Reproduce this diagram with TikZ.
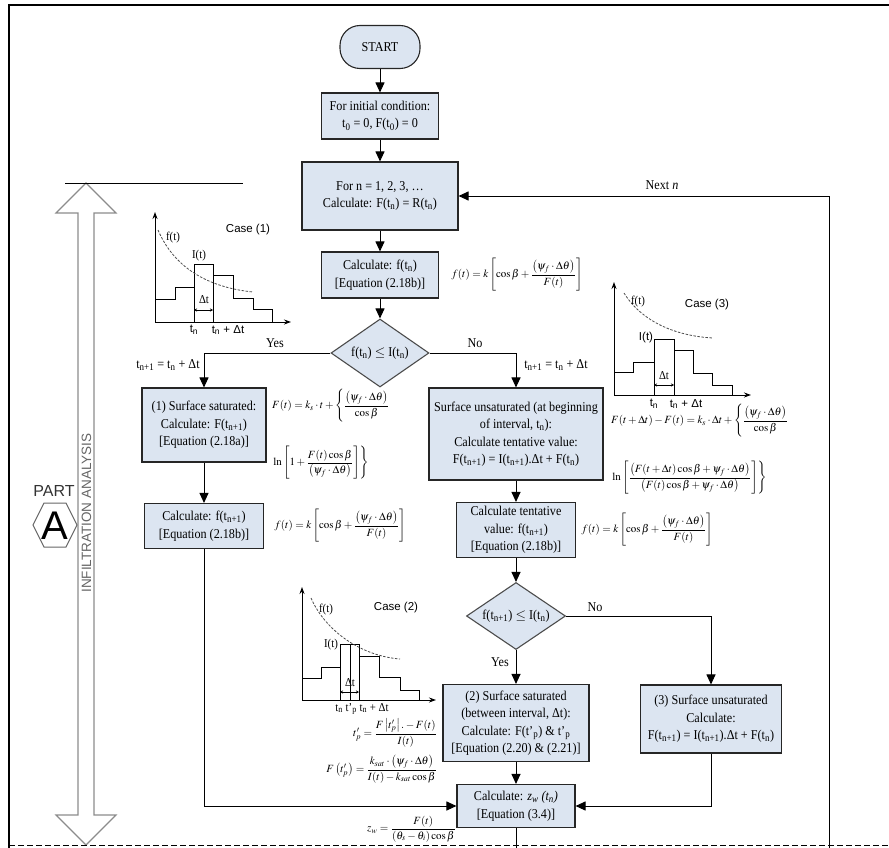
\documentclass[tikz,border=0pt]{standalone}
\usepackage{mathptmx}
\usepackage{fontspec}
\setmainfont{Liberation Serif}[FakeStretch=0.9]
\setsansfont{Liberation Sans}
\usetikzlibrary{arrows.meta,shapes.geometric}
\definecolor{boxfill}{HTML}{DCE5F1}
\definecolor{dblgray}{HTML}{8C8C8C}
\newcommand\tsub[1]{\textsubscript{#1}}
\begin{document}
\begin{tikzpicture}[x=1pt,y=-1pt,
  font=\fontsize{13.5}{17.5}\selectfont,
  box/.style={draw=black!85, fill=boxfill, line width=1.1pt, align=center, inner sep=2pt},
  dia/.style={diamond, draw=black!70, fill=boxfill, line width=1.1pt, align=center, inner sep=0pt, aspect=1.44},
  arr/.style={line width=1pt, -{Triangle[length=10pt,width=9pt]}},
  ln/.style={line width=1pt},
  chart/.style={line width=0.9pt},
  ax/.style={line width=0.9pt, -{Stealth[length=7pt,width=5pt]}},
  curv/.style={line width=0.8pt, dashed, dash pattern=on 2.5pt off 1.5pt, black!70},
  fm/.style={font=\fontsize{11}{13}\selectfont, inner sep=0pt},
  lbl/.style={inner sep=0pt},
  clab/.style={inner sep=0pt, font=\sffamily\fontsize{11.5}{13}\selectfont},
  slab/.style={inner sep=0pt, font=\fontsize{12}{13}\selectfont}
]
\useasboundingbox (0,0) rectangle (889,848);
% frame
\draw[line width=1.3pt] (9,860) -- (9,5) -- (889,5);

% left double arrow
\draw[dblgray, fill=white, line width=1.1pt]
  (86,183) -- (56,213) -- (78,213) -- (78,815) -- (56,815) -- (86,845)
  -- (116,815) -- (94,815) -- (94,213) -- (116,213) -- cycle;
\draw[ln] (65,183) -- (243,183);
\node[rotate=90, inner sep=0pt, text=black!60, font=\sffamily\fontsize{13.5}{14}\selectfont] (infil) at (86.5,513) {INFILTRATION ANALYSIS};
\node[inner sep=0pt, text=black!80, font=\sffamily\fontsize{16}{16}\selectfont] (part) at (54,491) {PART};
\draw[black!60, line width=1pt] (33,525) -- (44,503) -- (66,503) -- (77,525) -- (66,547) -- (44,547) -- cycle;
\node[inner sep=0pt, font=\sffamily\fontsize{40}{40}\selectfont] (lettA) at (55,526) {A};

% main flow nodes
\node[box, rounded corners=20pt, minimum width=80pt, minimum height=43pt] (start) at (380,47) {START};
\node[box, minimum width=117pt, minimum height=46pt] (init) at (380,116) {For initial condition:\\ t\tsub{0} = 0, F(t\tsub{0}) = 0};
\node[box, minimum width=156pt, minimum height=68pt] (loop) at (380,196) {For n = 1, 2, 3, \dots\\ Calculate: F(t\tsub{n}) = R(t\tsub{n})};
\node[box, minimum width=117pt, minimum height=46pt] (cf) at (380,275) {Calculate: f(t\tsub{n})\\ {[}Equation (2.18b){]}};
\node[dia, minimum width=98pt, minimum height=68pt] (d1) at (380,353) {f(t\tsub{n}) $\leq$ I(t\tsub{n})};
\node[box, minimum width=124pt, minimum height=74pt] (b1) at (204,425) {(1) Surface saturated:\\ Calculate: F(t\tsub{n+1})\\ {[}Equation (2.18a){]}};
\node[box, minimum width=119pt, minimum height=45pt] (cf2) at (204,526) {Calculate: f(t\tsub{n+1})\\ {[}Equation (2.18b){]}};
\node[box, minimum width=174pt, minimum height=92pt] (bu) at (516,434) {Surface unsaturated (at beginning\\ of interval, t\tsub{n}):\\ Calculate tentative value:\\ F(t\tsub{n+1}) = I(t\tsub{n+1}).Δt + F(t\tsub{n})};
\node[box, minimum width=119pt, minimum height=55pt] (bt) at (516,530) {Calculate tentative\\ value: f(t\tsub{n+1})\\ {[}Equation (2.18b){]}};
\node[dia, minimum width=99pt, minimum height=67pt] (d2) at (516,616) {f(t\tsub{n+1}) $\leq$ I(t\tsub{n})};
\node[box, minimum width=146pt, minimum height=77pt] (b2) at (516,723) {(2) Surface saturated\\ (between interval, Δt):\\ Calculate: F(t'\tsub{p}) \& t'\tsub{p}\\ {[}Equation (2.20) \& (2.21){]}};
\node[box, minimum width=141pt, minimum height=68pt] (b3) at (711,719) {(3) Surface unsaturated\\ Calculate:\\ F(t\tsub{n+1}) = I(t\tsub{n+1}).Δt + F(t\tsub{n})};
\node[box, minimum width=118pt, minimum height=43pt] (bz) at (516,806) {Calculate: \textit{z\tsub{w} (t\tsub{n})}\\ {[}Equation (3.4){]}};

% connectors
\draw[arr] (start) -- (init);
\draw[arr] (init) -- (loop);
\draw[arr] (loop) -- (cf);
\draw[arr] (cf) -- (d1);
\draw[arr] (d1.west) -| (b1.north);
\draw[arr] (d1.east) -| (bu.north);
\draw[arr] (b1) -- (cf2);
\draw[arr] (bu) -- (bt);
\draw[arr] (bt) -- (d2);
\draw[arr] (d2.east) -| (b3.north);
\draw[arr] (d2) -- (b2);
\draw[arr] (b2) -- (bz);
\draw[arr] (cf2.south) |- (bz.west);
\draw[arr] (b3.south) |- (bz.east);
\coordinate (zend) at (516,870);
\draw[arr] (bz) -- (zend);
\coordinate (nextbot) at (829,870);
\draw[arr] (nextbot) |- (loop.east);
\node[lbl] (nextn) at (662,185) {Next \textit{n}};

% branch labels
\node[lbl] (yes1) at (275,343) {Yes};
\node[lbl] (tl1) at (168,365) {t\tsub{n+1} = t\tsub{n} + Δt};
\node[lbl] (no1) at (475,343) {No};
\node[lbl] (tl2) at (556,365) {t\tsub{n+1} = t\tsub{n} + Δt};
\node[lbl] (no2) at (595,607) {No};
\node[lbl] (yes2) at (500,662) {Yes};

% dashed separator
\draw[line width=1pt, dashed, dash pattern=on 6pt off 3pt] (9,845) -- (889,845);

% formulas
\node[fm] (ff1) at (517,275) {$\displaystyle f(t)=k\left[\cos\beta+\frac{\left(\psi_f\cdot\Delta\theta\right)}{F(t)}\right]$};
\node[fm, anchor=west] (fa1) at (272,406) {$\displaystyle F(t)=k_s\cdot t+\left\{\frac{\left(\psi_f\cdot\Delta\theta\right)}{\cos\beta}\right.$};
\node[fm, anchor=west] (fa2) at (272,463) {$\displaystyle \left.\ln\left[1+\frac{F(t)\cos\beta}{\left(\psi_f\cdot\Delta\theta\right)}\right]\right\}$};
\node[fm] (ff2) at (340,526) {$\displaystyle f(t)=k\left[\cos\beta+\frac{\left(\psi_f\cdot\Delta\theta\right)}{F(t)}\right]$};
\node[fm, anchor=west] (fu1) at (611,421) {$\displaystyle F(t+\Delta t)-F(t)=k_s\cdot\Delta t+\left\{\frac{\left(\psi_f\cdot\Delta\theta\right)}{\cos\beta}\right.$};
\node[fm, anchor=west] (fu2) at (611,478) {$\displaystyle \left.\ln\left[\frac{\left(F(t+\Delta t)\cos\beta+\psi_f\cdot\Delta\theta\right)}{\left(F(t)\cos\beta+\psi_f\cdot\Delta\theta\right)}\right]\right\}$};
\node[fm] (ff3) at (647,530) {$\displaystyle f(t)=k\left[\cos\beta+\frac{\left(\psi_f\cdot\Delta\theta\right)}{F(t)}\right]$};
\node[fm, anchor=east] (ftp) at (437,733) {$\displaystyle t'_p=\frac{F\left|t'_p\right|.-F(t)}{I(t)}$};
\node[fm, anchor=east] (fFtp) at (437,769) {$\displaystyle F\left(t'_p\right)=\frac{k_{sat}\cdot\left(\psi_f\cdot\Delta\theta\right)}{I(t)-k_{sat}\cos\beta}$};
\node[fm, anchor=east] (fzw) at (456,829) {$\displaystyle z_w=\frac{F(t)}{\left(\theta_s-\theta_i\right)\cos\beta}$};

% ---- Case (1) chart
\draw[ax] (155,322) -- (155,212);
\draw[ax] (155,322) -- (291,322);
\draw[chart] (155,299) -- (175,299) -- (175,287) -- (194,287) -- (194,264) -- (213,264) -- (213,275) -- (233,275) -- (233,298) -- (253,298) -- (253,309) -- (272,309) -- (272,322);
\draw[chart] (194,264) -- (194,322);
\draw[chart] (213,264) -- (213,322);
\draw[line width=0.6pt, {Stealth[length=3pt,width=3pt]}-{Stealth[length=3pt,width=3pt]}] (194,310) -- (213,310);
\draw[curv] (158,230) .. controls (176,272) and (214,288) .. (253,292);
\node[slab] (c1f) at (173,238) {f(t)};
\node[slab] (c1I) at (199,256) {I(t)};
\node[clab] (c1c) at (248,230) {Case (1)};
\node[slab] (c1d) at (204,300) {Δt};
\node[clab] (c1t1) at (194,330) {t\tsub{n}};
\node[clab] (c1t2) at (228,330) {t\tsub{n} + Δt};

% ---- Case (3) chart
\draw[ax] (614,395) -- (614,282);
\draw[ax] (614,395) -- (751,395);
\draw[chart] (614,372) -- (633,372) -- (633,362) -- (654,362) -- (654,339) -- (674,339) -- (674,350) -- (693,350) -- (693,373) -- (712,373) -- (712,385) -- (732,385) -- (732,395);
\draw[chart] (654,339) -- (654,395);
\draw[chart] (674,339) -- (674,395);
\draw[line width=0.6pt, {Stealth[length=3pt,width=3pt]}-{Stealth[length=3pt,width=3pt]}] (654,385) -- (674,385);
\draw[curv] (624,293) .. controls (642,322) and (676,336) .. (713,338);
\node[slab] (c3f) at (638,302) {f(t)};
\node[clab] (c3I) at (646,338) {I(t)};
\node[clab] (c3c) at (707,305) {Case (3)};
\node[slab] (c3d) at (664,376) {Δt};
\node[clab] (c3t1) at (654,404) {t\tsub{n}};
\node[clab] (c3t2) at (686,404) {t\tsub{n} + Δt};

% ---- Case (2) chart
\draw[ax] (302,700) -- (302,587);
\draw[ax] (302,700) -- (436,700);
\draw[chart] (302,678) -- (321,678) -- (321,667) -- (340,667) -- (340,644) -- (359,644) -- (359,656) -- (379,656) -- (379,677) -- (400,677) -- (400,690) -- (419,690) -- (419,700);
\draw[chart] (340,644) -- (340,700);
\draw[chart] (359,644) -- (359,700);
\draw[chart] (350,644) -- (350,700);
\draw[line width=0.6pt, {Stealth[length=3pt,width=3pt]}-{Stealth[length=3pt,width=3pt]}] (340,692) -- (359,692);
\draw[curv] (311,598) .. controls (326,632) and (362,656) .. (400,659);
\node[slab] (c2f) at (326,610) {f(t)};
\node[slab] (c2I) at (331,645) {I(t)};
\node[clab] (c2c) at (396,608) {Case (2)};
\node[slab] (c2d) at (350,683) {Δt};
\node[slab] (c2t) at (362,709) {t\tsub{n} t'\tsub{p} t\tsub{n} + Δt};
\end{tikzpicture}
\end{document}
